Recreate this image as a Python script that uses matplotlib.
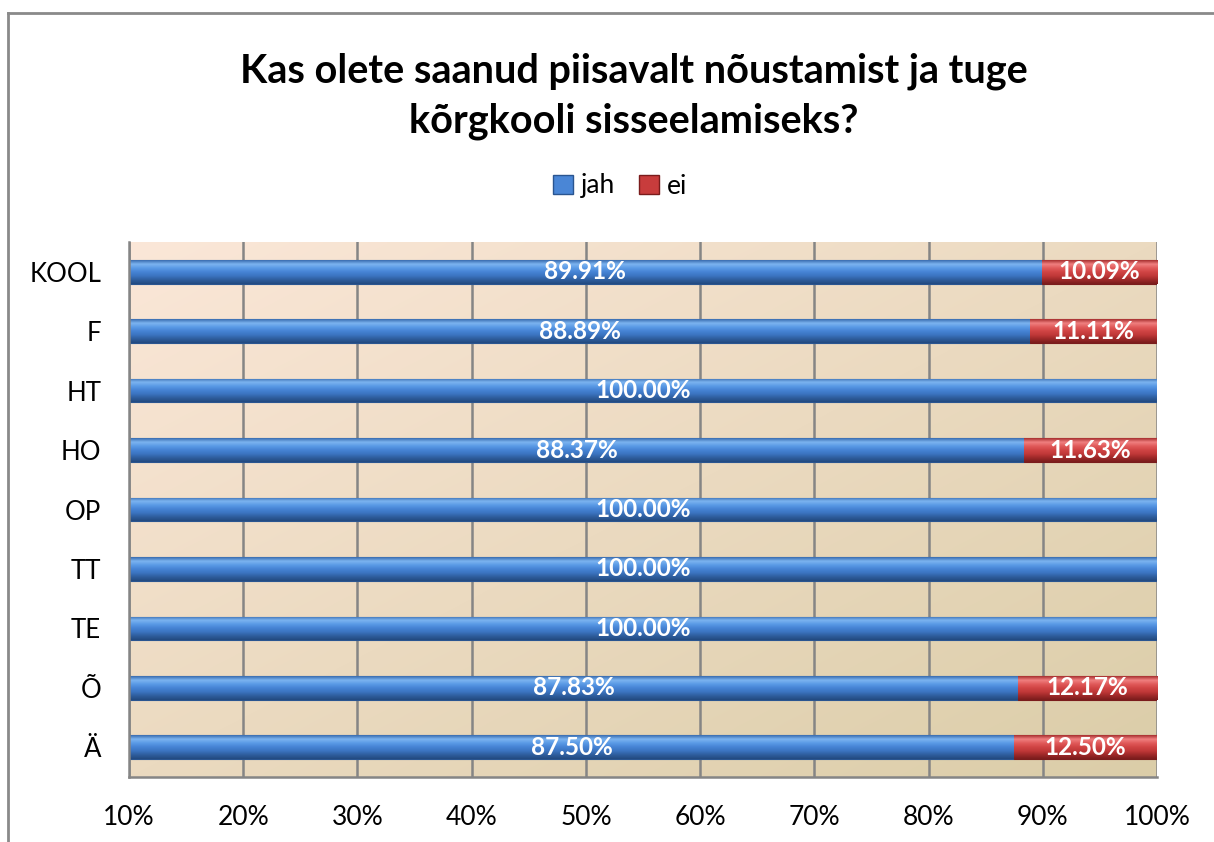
import numpy as np
import matplotlib
matplotlib.use("Agg")
import matplotlib.pyplot as plt
from matplotlib.patches import Patch
from matplotlib.lines import Line2D
from matplotlib.colors import to_rgb

plt.rcParams['font.family'] = ['Lato', 'DejaVu Sans']

categories = ["KOOL", "F", "HT", "HO", "OP", "TT", "TE", "Õ", "Ä"]
jah = [89.91, 88.89, 100.00, 88.37, 100.00, 100.00, 100.00, 87.83, 87.50]
ei = [10.09, 11.11, 0.00, 11.63, 0.00, 0.00, 0.00, 12.17, 12.50]
xticks = [10, 20, 30, 40, 50, 60, 70, 80, 90, 100]
title = "Kas olete saanud piisavalt nõustamist ja tuge\nkõrgkooli sisseelamiseks?"

fig = plt.figure(figsize=(12.14, 8.42), dpi=100)
ax = fig.add_axes([129/1214, 1-777/842, (1157-129)/1214, (777-242)/842])

XMIN, XMAX = 10, 100

# background gradient
gx = np.linspace(0, 1, 200)
gy = np.linspace(0, 1, 200)
GX, GY = np.meshgrid(gx, gy)
t = (GX + GY) / 2  # 0 top-left -> 1 bottom-right (origin upper)
c0 = np.array([251, 231, 216]) / 255
c1 = np.array([219, 205, 168]) / 255
bg = c0[None, None, :] * (1 - t[..., None]) + c1[None, None, :] * t[..., None]
ax.imshow(bg, extent=(0, 1, 0, 1), transform=ax.transAxes, aspect='auto',
          origin='upper', zorder=0, interpolation='bilinear')

for x in xticks:
    ax.axvline(x, color='#858585', lw=1.8, zorder=1)

def grad(colors, n=60):
    pos = np.linspace(0, 1, len(colors))
    cols = np.array([to_rgb(c) for c in colors])
    s = np.linspace(0, 1, n)
    arr = np.stack([np.interp(s, pos, cols[:, k]) for k in range(3)], axis=1)
    return arr[:, None, :]

blue_grad = grad(['#3a6db0', '#7cb4f0', '#5a9ae6', '#4683d4', '#3b74c0', '#2e5d9c', '#234a80'])
red_grad = grad(['#a83030', '#f08080', '#e05a5a', '#d04444', '#c03838', '#9c2828', '#7a1c1c'])

h = 0.40
y = np.arange(len(categories))
left_ei = np.array(jah)

bars_j = ax.barh(y, np.array(jah) - XMIN, left=XMIN, height=h, color='#4a86d6',
                 edgecolor='#2a5590', lw=0.8, zorder=2)
bars_e = ax.barh(y, ei, left=left_ei, height=h, color='#c83c3c',
                 edgecolor='#7a1c1c', lw=0.8, zorder=2)

for bars, g in ((bars_j, blue_grad), (bars_e, red_grad)):
    for b in bars:
        if b.get_width() <= 0:
            continue
        x0 = b.get_x(); x1 = x0 + b.get_width()
        yb = b.get_y(); yt = yb + b.get_height()
        im = ax.imshow(g, extent=(x0, x1, yt, yb), origin='upper', aspect='auto',
                       zorder=2.5, interpolation='bilinear')
        im.set_clip_path(b)

ax.set_xlim(XMIN, XMAX)
ax.set_ylim(len(categories)-0.5, -0.5)

for i in range(len(categories)):
    if jah[i] > 0:
        cx = (XMIN + jah[i]) / 2
        ax.text(cx, i, f"{jah[i]:.2f}%", ha='center', va='center', color='white',
                fontsize=17.5, fontweight='bold', zorder=4)
    if ei[i] > 0:
        cx = jah[i] + ei[i] / 2
        ax.text(cx, i, f"{ei[i]:.2f}%", ha='center', va='center', color='white',
                fontsize=17.5, fontweight='bold', zorder=4)

ax.set_xticks(xticks)
ax.set_xticklabels([f"{v}%" for v in xticks], fontsize=19)
ax.set_yticks(y)
ax.set_yticklabels(categories, fontsize=18.5)
ax.tick_params(axis='x', length=0, pad=20)
ax.tick_params(axis='y', length=0, pad=20)
for s in ('top', 'right'):
    ax.spines[s].set_visible(False)
for s in ('left', 'bottom'):
    ax.spines[s].set_color('#858585')
    ax.spines[s].set_linewidth(1.8)
    ax.spines[s].set_zorder(3)

fig.text(634/1214, 1-96/842, title, ha='center', va='center', fontsize=28.5,
         fontweight='bold', linespacing=1.4)

handles = [Patch(facecolor='#4a86d6', edgecolor='#2a5590', label='jah'),
           Patch(facecolor='#c83c3c', edgecolor='#7a1c1c', label='ei')]
fig.legend(handles=handles, loc='center', bbox_to_anchor=(620/1214, 1-186/842),
           ncol=2, frameon=False, fontsize=19, handlelength=0.75, handleheight=0.75,
           handletextpad=0.3, columnspacing=0.9)

fig.add_artist(Line2D([8/1214, 8/1214], [0, 1-13/842], color='#8a8a8a', lw=2,
                      transform=fig.transFigure))
fig.add_artist(Line2D([8/1214, 1], [1-13/842, 1-13/842], color='#8a8a8a', lw=2,
                      transform=fig.transFigure))

fig.savefig("out.png", dpi=100)
